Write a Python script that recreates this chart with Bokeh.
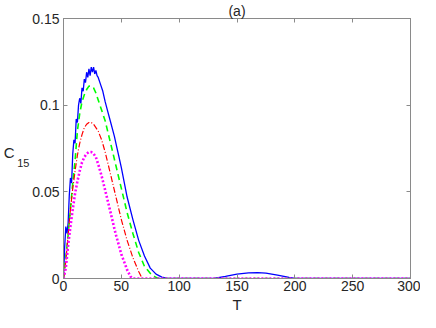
from bokeh.plotting import figure
from bokeh.models import Range1d, LinearAxis, FixedTicker, Title
from bokeh.embed import file_html
from bokeh.resources import INLINE

# ---- data ----
t_blue = [0, 1, 2, 3, 4, 5, 6, 7, 8, 9, 10, 11, 12, 13, 14, 15, 16, 17, 18, 19,
          20, 21, 22, 23, 24, 25, 26, 27, 28, 29, 30, 32, 34, 36, 38, 40, 42, 44,
          46, 48, 50, 55, 60, 65, 70, 75, 80, 85, 90, 95, 130, 140, 150, 160, 168,
          175, 185, 195, 200, 300]
c_blue = [0, 0.018, 0.030, 0.026, 0.032, 0.048, 0.058, 0.055, 0.072, 0.080, 0.078,
          0.092, 0.090, 0.100, 0.104, 0.101, 0.110, 0.108, 0.115, 0.113, 0.119,
          0.116, 0.121, 0.117, 0.122, 0.119, 0.122, 0.118, 0.120, 0.117, 0.116,
          0.112, 0.108, 0.102, 0.097, 0.092, 0.087, 0.082, 0.076, 0.070, 0.064,
          0.047, 0.034, 0.022, 0.013, 0.006, 0.0025, 0.0008, 0.0001, 0, 0,
          0.0012, 0.0025, 0.0032, 0.0034, 0.0031, 0.0020, 0.0006, 0, 0]

t_green = [0, 2, 4, 6, 8, 10, 12, 14, 16, 18, 20, 22, 24, 26, 28, 30, 33, 36, 40,
           45, 50, 55, 60, 65, 70, 75, 80, 83, 300]
c_green = [0, 0.012, 0.025, 0.040, 0.055, 0.068, 0.085, 0.095, 0.102, 0.106, 0.109,
           0.111, 0.111, 0.110, 0.107, 0.103, 0.097, 0.091, 0.080, 0.066, 0.052,
           0.038, 0.026, 0.015, 0.007, 0.003, 0.0005, 0, 0]

t_red = [0, 2, 4, 6, 8, 10, 12, 14, 16, 18, 20, 22, 24, 26, 28, 30, 33, 36, 40, 45,
         50, 55, 60, 65, 68, 300]
c_red = [0, 0.010, 0.025, 0.040, 0.052, 0.062, 0.071, 0.078, 0.083, 0.087, 0.089,
         0.090, 0.090, 0.089, 0.087, 0.085, 0.080, 0.073, 0.062, 0.048, 0.034,
         0.022, 0.012, 0.004, 0, 0]

t_mag = [0, 2, 4, 6, 8, 10, 12, 14, 16, 18, 20, 22, 24, 26, 28, 30, 33, 36, 40, 45,
         50, 55, 58, 60, 300]
c_mag = [0, 0.006, 0.019, 0.030, 0.040, 0.049, 0.056, 0.062, 0.067, 0.070, 0.072,
         0.073, 0.073, 0.072, 0.070, 0.066, 0.059, 0.051, 0.040, 0.026, 0.014,
         0.005, 0.001, 0, 0]

x_ticks = [0, 50, 100, 150, 200, 250, 300]
y_ticks = [0, 0.05, 0.1, 0.15]
y_tick_labels = ["0", "0.05", "0.1", "0.15"]

FONT = "Liberation Sans"
TXT = "#262626"
AX = "#8a8a8a"

p = figure(width=420, height=312, output_backend="svg", toolbar_location=None,
           x_range=Range1d(0, 300), y_range=Range1d(0, 0.15),
           min_border_left=50, min_border_right=10, min_border_top=0,
           min_border_bottom=0, x_axis_type=None, y_axis_type=None)
p.background_fill_color = "white"
p.border_fill_color = "white"
p.outline_line_color = AX
p.grid.visible = False

p.title.text = "(a)"
p.title.align = "center"
p.title.text_font = FONT
p.title.text_font_size = "14px"
p.title.text_font_style = "normal"
p.title.text_color = TXT
p.title.standoff = 0


def style(ax):
    ax.axis_line_color = AX
    ax.major_tick_line_color = AX
    ax.minor_tick_line_color = None
    ax.major_tick_in = 4
    ax.major_tick_out = 0
    ax.major_label_text_font = FONT
    ax.major_label_text_font_size = "14px"
    ax.major_label_text_color = TXT
    ax.major_label_standoff = 4
    ax.axis_label_text_font = FONT
    ax.axis_label_text_color = TXT
    ax.axis_label_text_font_style = "normal"


def bare(ax, ticks):
    style(ax)
    ax.major_label_overrides = {v: "" for v in ticks}
    ax.major_label_standoff = 0


xb = LinearAxis(ticker=FixedTicker(ticks=x_ticks))
style(xb)
xb.major_label_standoff = 2
p.add_layout(xb, "below")

# x label "T" as a title in the bottom panel
p.add_layout(Title(text="T", align="center", text_font=FONT,
                   text_font_size="15px", text_font_style="normal",
                   text_color=TXT, standoff=0, offset=0), "below")

xt = LinearAxis(ticker=FixedTicker(ticks=x_ticks))
bare(xt, x_ticks)
p.add_layout(xt, "above")

yl = LinearAxis(ticker=FixedTicker(ticks=y_ticks))
style(yl)
yl.major_label_overrides = {v: s for v, s in zip(y_ticks, y_tick_labels)}
p.add_layout(yl, "left")

# y label "C" with subscript "15", as two horizontal axis labels
ysub = LinearAxis(ticker=FixedTicker(ticks=[]), axis_line_color=None,
                  major_tick_line_color=None, minor_tick_line_color=None)
ysub.major_label_text_font_size = "11px"
ysub.axis_label = "\n\n15"
ysub.axis_label_orientation = "horizontal"
ysub.axis_label_text_font = FONT
ysub.axis_label_text_font_size = "11px"
ysub.axis_label_text_font_style = "normal"
ysub.axis_label_text_color = TXT
ysub.axis_label_standoff = 0
p.add_layout(ysub, "left")

yc = LinearAxis(ticker=FixedTicker(ticks=[]), axis_line_color=None,
                major_tick_line_color=None, minor_tick_line_color=None)
yc.axis_label = "\nC"
yc.axis_label_orientation = "horizontal"
yc.axis_label_text_font = FONT
yc.axis_label_text_font_size = "15px"
yc.axis_label_text_font_style = "normal"
yc.axis_label_text_line_height = 0.5
yc.axis_label_text_color = TXT
yc.axis_label_standoff = 0
p.add_layout(yc, "left")

yr = LinearAxis(ticker=FixedTicker(ticks=y_ticks))
bare(yr, y_ticks)
p.add_layout(yr, "right")

p.line(t_blue, c_blue, line_color="#0000ff", line_width=1.3)
p.line(t_green, c_green, line_color="#00ff00", line_width=1.6, line_dash="6 4")
p.line(t_red, c_red, line_color="#ff0000", line_width=1.2, line_dash="6 2 1 2")
p.line(t_mag, c_mag, line_color="#ff00ff", line_width=2.6, line_dash="2 2")

open("out.html", "w").write(file_html(p, INLINE))
